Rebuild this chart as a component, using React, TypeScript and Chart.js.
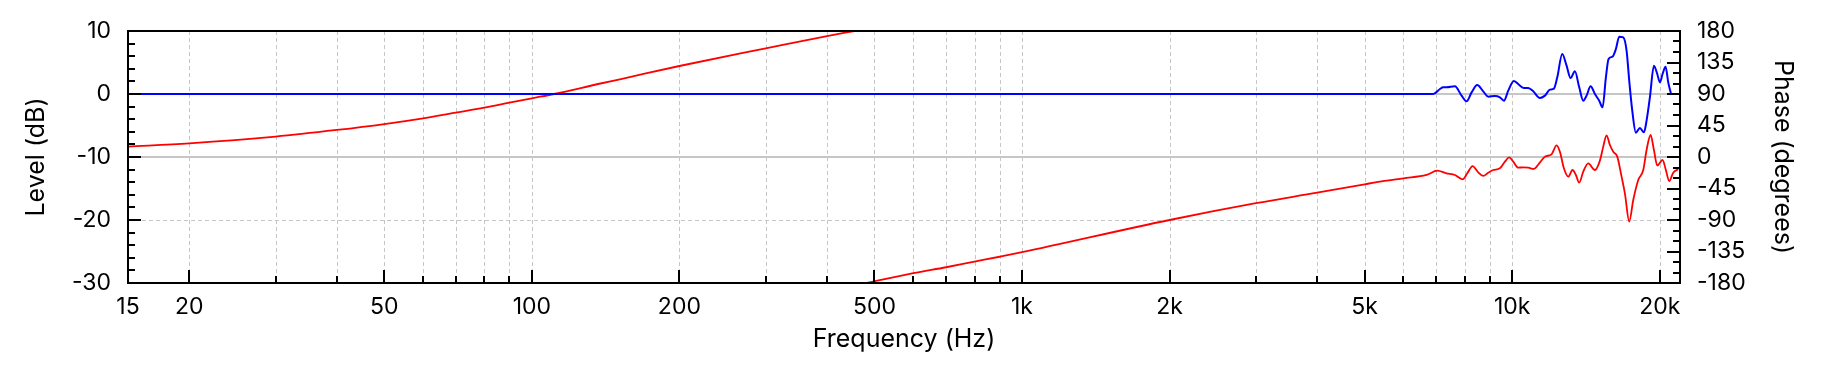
import { useEffect, useRef } from 'react';
import { Chart, registerables } from 'chart.js';

Chart.register(...registerables);

// ---------- data ----------
const xTickValues = [15, 20, 50, 100, 200, 500, 1000, 2000, 5000, 10000, 20000];
const xTickLabels = ['15', '20', '50', '100', '200', '500', '1k', '2k', '5k', '10k', '20k'];
const xGridFreqs = [
  20, 30, 40, 50, 60, 70, 80, 90, 100, 200, 300, 400, 500, 600, 700, 800, 900,
  1000, 2000, 3000, 4000, 5000, 6000, 7000, 8000, 9000, 10000, 20000,
];

const levelMinorTicks = [-28, -26, -24, -22, -18, -16, -14, -12, -8, -6, -4, -2, 2, 4, 6, 8];
const levelMajorTicks = [-20, -10, 0];
const levelDashedGrid = [-20, -10, 0];
const levelSolidGrid = [0];
const phaseMinorTicks = [-165, -150, -120, -105, -75, -60, -30, -15, 15, 30, 60, 75, 105, 120, 150, 165];
const phaseMajorTicks = [-135, -90, -45, 0, 45, 90, 135];
const phaseSolidGrid = [0];

const levelFreq = [
  15, 6903, 7123, 7236, 7349, 7642, 7885, 8072, 8265, 8487, 8729, 8937, 9222, 9441, 9621,
  9818, 10083, 10338, 10569, 10785, 11041, 11393, 11663, 11940, 12168, 12360, 12653, 12913,
  13159, 13428, 13703, 13964, 14185, 14455, 14751, 15053, 15291, 15532, 15729, 16026, 16279,
  16536, 16851, 17117, 17332, 17581, 17884, 18224, 18572, 18803, 19100, 19463, 19771, 20018,
  20268, 20559, 20817, 21077,
];
const levelDb = [
  0, 0, 0.79, 1.06, 1.06, 1.22, -0.26, -1.16, 0.26, 1.43, 0.42, -0.42, -0.32, -0.53, -1.06,
  0.53, 2.06, 1.43, 0.95, 0.95, 0.42, -0.63, -0.26, 0.69, 0.85, 2.65, 6.35, 4.5,
  2.54, 3.6, 1.06, -1.06, -0.26, 1.22, 0, -1.06, -2.12, 2.65, 5.56, 5.93, 7.14,
  9.1, 9.0, 6.88, 2.12, -2.65, -6.14, -5.4, -6.08, -4.23, -0.53, 4.5, 3.17, 1.85,
  3.17, 4.34, 1.85, 0.1,
];

const phaseFreq = [
  15, 20, 30, 40, 50, 60, 70, 80, 90, 100, 111, 138, 152, 200, 300, 400, 455, 470, 482, 600,
  700, 800, 900, 1000, 2000, 3000, 4000, 5000, 5373, 6000, 6690, 7034, 7349, 7642,
  7922, 8099, 8303, 8527, 8729, 8937, 9150, 9441, 9665, 9863, 10051, 10290, 10535, 10785,
  11076, 11356, 11663, 12034, 12320, 12515, 12752, 13014, 13280, 13490, 13703, 13964, 14296,
  14751, 15102, 15340, 15582, 15828, 16078, 16385, 16719, 16983, 17332, 17662, 18081, 18512,
  18803, 19162, 19463, 19771, 20268, 20588, 20913, 21311, 21817,
];
const phaseDeg = [
  14.8, 19.5, 29.1, 38.6, 47.1, 55.3, 63.3, 70.4, 77.6, 83.9, 90, 105, 111.4, 130, 155.2, 172.8,
  180, null, -180, -166, -157.5, -149.5, -142.5, -136, -90, -66, -51, -39,
  -35.2, -30.4, -25.7, -19.5, -23.3, -25.7, -31.9, -23.3, -12.9, -21.9, -27.1, -22.4, -18.6,
  -16.2, -6.7, -0.5, -6.7, -15.2, -14.8, -15.2, -17.1, -9.0, 0.5, 3.8, 16.7, 7.6, -16.2, -28.1,
  -18.6, -25.7, -36.7, -20.9, -9.0, -18.6, -5.2, 14.8, 30.9, 17.1, 7.6, 0.5, -28.1, -51.9,
  -92.3, -61.4, -32.8, -18.6, 10.0, 31.4, 10.0, -12.4, -4.3, -18.6, -34.3, -22.4, -17.6,
];

// ---------- style ----------
const W = 1824;
const H = 368;
const FONT = 'Inter';
const GRID = '#c6c6c6';
const MAJOR_TICK = 13;
const MINOR_TICK = 7;

const framePlugin = {
  id: 'frame',
  beforeDatasetsDraw(chart: any) {
    const { ctx, chartArea: a, scales } = chart;
    const sx = scales.x;
    const sy = scales.y;
    const sy1 = scales.y1;
    ctx.save();
    ctx.strokeStyle = GRID;
    ctx.lineWidth = 1;
    ctx.setLineDash([4, 3]);
    ctx.beginPath();
    for (const f of xGridFreqs) {
      const p = Math.round(sx.getPixelForValue(f)) + 0.5;
      ctx.moveTo(p, a.top);
      ctx.lineTo(p, a.bottom);
    }
    for (const v of levelDashedGrid) {
      const p = Math.round(sy.getPixelForValue(v)) + 0.5;
      ctx.moveTo(a.left, p);
      ctx.lineTo(a.right, p);
    }
    ctx.stroke();
    ctx.setLineDash([]);
    ctx.lineWidth = 2;
    ctx.beginPath();
    for (const v of levelSolidGrid) {
      const p = Math.round(sy.getPixelForValue(v));
      ctx.moveTo(a.left, p);
      ctx.lineTo(a.right, p);
    }
    for (const v of phaseSolidGrid) {
      const p = Math.round(sy1.getPixelForValue(v));
      ctx.moveTo(a.left, p);
      ctx.lineTo(a.right, p);
    }
    ctx.stroke();
    ctx.restore();
  },
  afterDatasetsDraw(chart: any) {
    const { ctx, chartArea: a, scales } = chart;
    const sx = scales.x;
    const sy = scales.y;
    const sy1 = scales.y1;
    ctx.save();
    ctx.strokeStyle = '#000';
    ctx.lineWidth = 2;
    ctx.beginPath();
    for (const f of xGridFreqs) {
      const p = Math.round(sx.getPixelForValue(f));
      const len = xTickValues.includes(f) ? MAJOR_TICK : MINOR_TICK;
      ctx.moveTo(p, a.bottom);
      ctx.lineTo(p, a.bottom - len);
    }
    for (const v of levelMajorTicks) {
      const p = Math.round(sy.getPixelForValue(v));
      ctx.moveTo(a.left, p);
      ctx.lineTo(a.left + MAJOR_TICK, p);
    }
    for (const v of levelMinorTicks) {
      const p = Math.round(sy.getPixelForValue(v));
      ctx.moveTo(a.left, p);
      ctx.lineTo(a.left + MINOR_TICK, p);
    }
    for (const v of phaseMajorTicks) {
      const p = Math.round(sy1.getPixelForValue(v));
      ctx.moveTo(a.right, p);
      ctx.lineTo(a.right - MAJOR_TICK, p);
    }
    for (const v of phaseMinorTicks) {
      const p = Math.round(sy1.getPixelForValue(v));
      ctx.moveTo(a.right, p);
      ctx.lineTo(a.right - MINOR_TICK, p);
    }
    ctx.stroke();
    ctx.strokeRect(a.left, a.top, a.right - a.left, a.bottom - a.top);
    ctx.restore();
  },
};

export default function App() {
  const ref = useRef<HTMLCanvasElement | null>(null);

  useEffect(() => {
    if (!ref.current) return;
    const tickFont = { family: FONT, size: 23 };
    const titleFont = { family: FONT, size: 25 };
    const chart = new Chart(ref.current, {
      type: 'line',
      data: {
        datasets: [
          {
            label: 'Level',
            data: levelFreq.map((f, i) => ({ x: f, y: levelDb[i] })),
            borderColor: '#0000ff',
            borderWidth: 2,
            pointRadius: 0,
            cubicInterpolationMode: 'monotone',
            yAxisID: 'y',
          },
          {
            label: 'Phase',
            data: phaseFreq.map((f, i) => ({ x: f, y: phaseDeg[i] })),
            borderColor: '#ff0000',
            borderWidth: 1.8,
            pointRadius: 0,
            cubicInterpolationMode: 'monotone',
            spanGaps: false,
            yAxisID: 'y1',
          },
        ],
      },
      options: {
        responsive: false,
        animation: false,
        devicePixelRatio: 1,
        layout: { padding: { top: 31, left: 0, right: 0, bottom: 0 } },
        plugins: { legend: { display: false }, tooltip: { enabled: false } },
        scales: {
          x: {
            type: 'logarithmic',
            position: 'bottom',
            min: 15,
            max: 22000,
            grid: { display: false, drawTicks: false },
            border: { display: false },
            afterBuildTicks: (s: any) => {
              s.ticks = xTickValues.map((v) => ({ value: v }));
            },
            afterFit: (s: any) => {
              s.height = 85;
            },
            ticks: {
              autoSkip: false,
              maxRotation: 0,
              minRotation: 0,
              padding: 10,
              color: '#000',
              font: tickFont,
              callback: (v: any) => {
                const i = xTickValues.indexOf(Number(v));
                return i >= 0 ? xTickLabels[i] : '';
              },
            },
            title: {
              display: true,
              text: 'Frequency (Hz)',
              color: '#000',
              font: titleFont,
              padding: { top: 0, bottom: 14 },
            },
          },
          y: {
            type: 'linear',
            position: 'left',
            min: -30,
            max: 10,
            grid: { display: false, drawTicks: false },
            border: { display: false },
            afterFit: (s: any) => {
              s.width = 128;
            },
            ticks: { stepSize: 10, padding: 17, color: '#000', font: tickFont },
            title: {
              display: true,
              text: 'Level (dB)',
              color: '#000',
              font: titleFont,
              padding: { top: 21, bottom: 0 },
            },
          },
          y1: {
            type: 'linear',
            position: 'right',
            min: -180,
            max: 180,
            grid: { display: false, drawTicks: false },
            border: { display: false },
            afterFit: (s: any) => {
              s.width = W - 1680;
            },
            ticks: { stepSize: 45, padding: 17, color: '#000', font: tickFont },
            title: {
              display: true,
              text: 'Phase (degrees)',
              color: '#000',
              font: titleFont,
              padding: { top: 26, bottom: 0 },
            },
          },
        },
      } as any,
      plugins: [framePlugin],
    });
    return () => chart.destroy();
  }, []);

  return (
    <div style={{ position: 'absolute', left: 0, top: 0, width: W, height: H, background: '#fff' }}>
      <canvas ref={ref} width={W} height={H} style={{ display: 'block', width: W, height: H }} />
    </div>
  );
}
